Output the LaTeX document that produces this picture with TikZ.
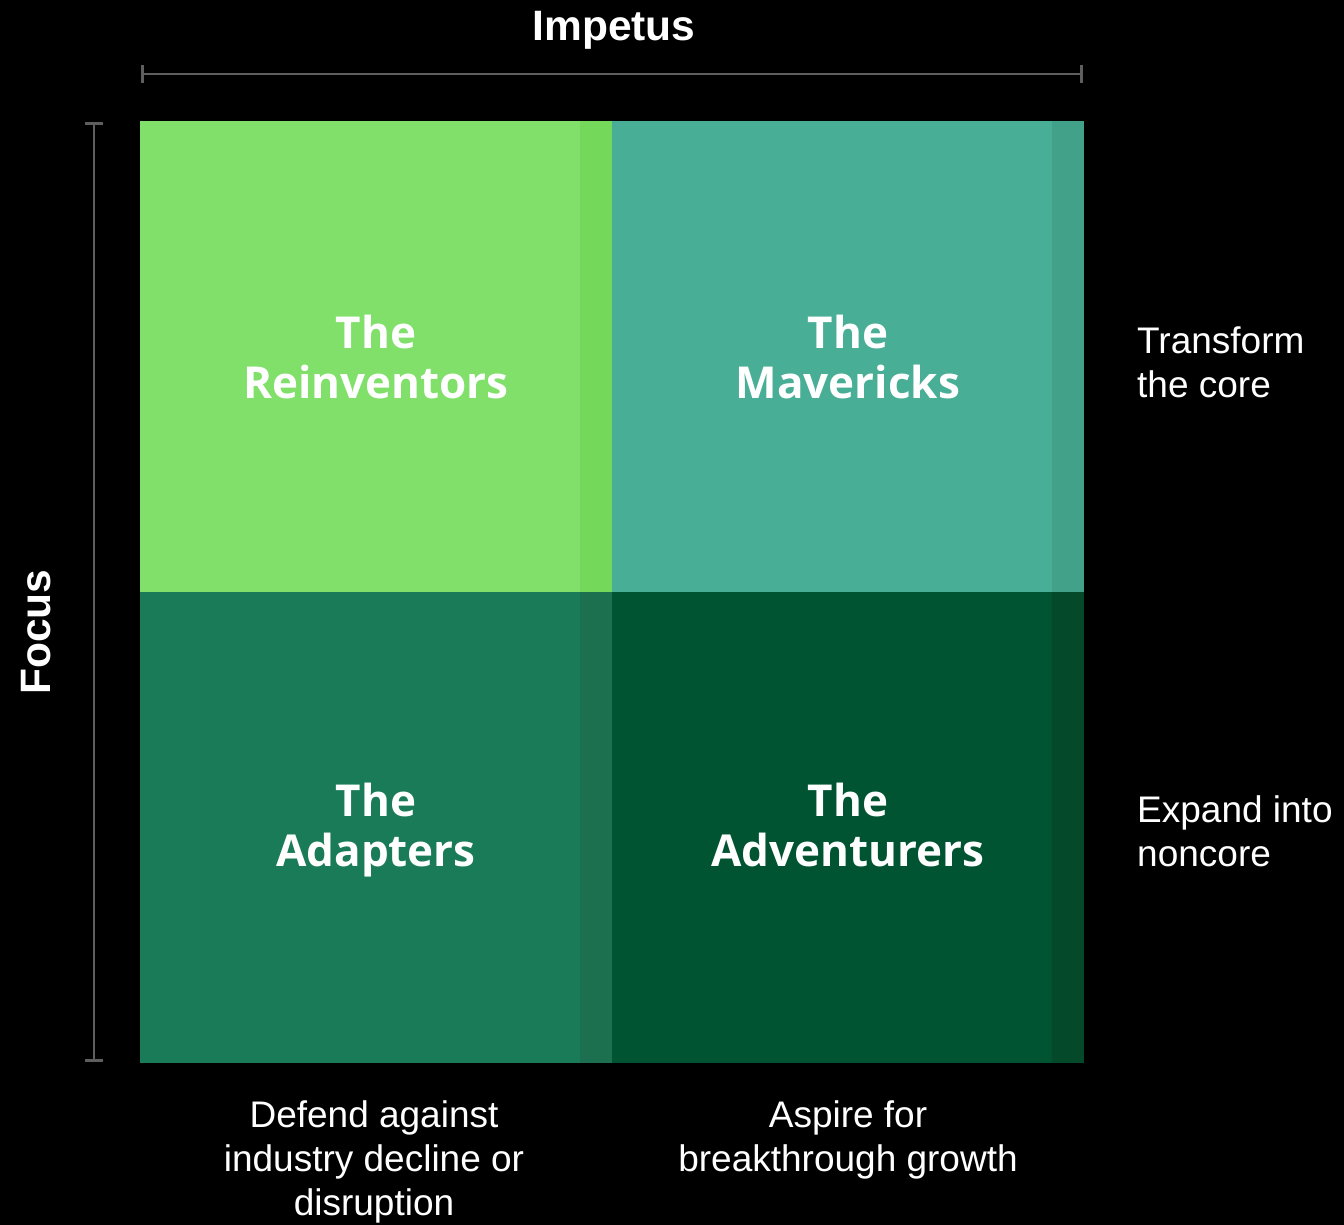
\documentclass[tikz,border=0pt]{standalone}
\usepackage{fontspec}
\setmainfont{Liberation Sans}
\newfontfamily\quadfont{Open Sans}
\usetikzlibrary{arrows.meta,positioning}
\definecolor{reinfill}{HTML}{80E06A}
\definecolor{reinstrip}{HTML}{74D85A}
\definecolor{mavfill}{HTML}{49AE96}
\definecolor{mavstrip}{HTML}{41A189}
\definecolor{adapfill}{HTML}{1A7B58}
\definecolor{adapstrip}{HTML}{1C7050}
\definecolor{advfill}{HTML}{005432}
\definecolor{advstrip}{HTML}{04492A}
\definecolor{bargray}{HTML}{5E5E5E}
\tikzset{%
    % style for one field of the matrix
    quadrant/.style={%
        shape=rectangle,
        minimum width=472pt,
        minimum height=471pt,
        inner sep=0pt,
        outer sep=0pt,
        anchor=north west,
        text=white,
        align=center,
        font=\quadfont\bfseries\fontsize{44}{50}\selectfont,
    },
    % style for the axis names
    axis title/.style={%
        text=white,
        inner sep=0pt,
        font=\bfseries\fontsize{42.5}{48}\selectfont,
    },
    % style for the texts round the matrix
    side label/.style={%
        text=white,
        inner sep=0pt,
        font=\fontsize{37}{44}\selectfont,
    },
    % style for the scale bars
    bracket/.style={%
        bargray,
        line width=2.5pt,
        {Bar[width=18pt,line width=3pt]}-{Bar[width=18pt,line width=3pt]},
    },
}

\begin{document}
\begin{tikzpicture}[x=1pt,y=-1pt]
    % page and background
    \useasboundingbox (0,0) rectangle (1344,1225);
    \fill [black] (0,0) rectangle (1344,1225);
    % the four fields
    \node (rein) [quadrant, fill=reinfill] at (140,121) {The\\Reinventors};
    \node (mav) [quadrant, fill=mavfill] at (612,121) {The\\Mavericks};
    \node (adap) [quadrant, fill=adapfill, text depth=5pt] at (140,592) {The\\Adapters};
    \node (adv) [quadrant, fill=advfill, text depth=5pt] at (612,592) {The\\Adventurers};
    %% darker strips on the right side
    \fill [reinstrip] ([xshift=-32pt]rein.north east) rectangle (rein.south east);
    \fill [mavstrip] ([xshift=-32pt]mav.north east) rectangle (mav.south east);
    \fill [adapstrip] ([xshift=-32pt]adap.north east) rectangle (adap.south east);
    \fill [advstrip] ([xshift=-32pt]adv.north east) rectangle (adv.south east);
    % axis titles
    \node (impetus) [axis title, anchor=base] at (614,41) {Impetus};
    \node (focus) [axis title, rotate=90, anchor=base] at (50,632) {Focus};
    % scale bars
    \coordinate (imp-l) at (141,74);
    \coordinate (imp-r) at (1083,74);
    \coordinate (foc-t) at (94,122);
    \coordinate (foc-b) at (94,1062);
    \draw [bracket] (imp-l) -- (imp-r);
    \draw [bracket] (foc-t) -- (foc-b);
    % focus texts (base = last line)
    \node (core) [side label, anchor=base west, align=left] at (1137,397) {Transform\\the core};
    \node (noncore) [side label, anchor=base west, align=left] at (1137,866) {Expand into\\noncore};
    % impetus texts
    \node (defend) [side label, anchor=base, align=center] at (374,1215) {Defend against\\industry decline or\\disruption};
    \node (aspire) [side label, anchor=base, align=center] at (848,1171) {Aspire for\\breakthrough growth};
\end{tikzpicture}
\end{document}
